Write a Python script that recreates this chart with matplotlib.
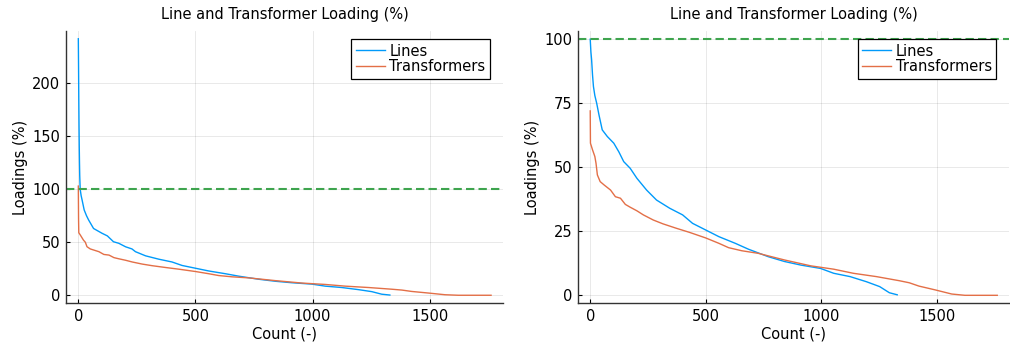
import numpy as np
import matplotlib.pyplot as plt

# values (count of elements, loading %)
# left panel: all elements
lines_count_all = [0, 1, 2, 3, 4, 5, 6, 8, 12, 16, 25, 35, 44, 65, 101, 124, 150, 173, 202, 229,
                   244, 287, 344, 400, 443, 500, 557, 628, 685, 770, 841, 912, 997, 1054, 1125,
                   1196, 1253, 1295, 1330]
lines_load_all = [242, 215, 185, 160, 140, 125, 113, 100, 94, 90, 80.5, 75, 71, 63, 58.5, 56, 50.5,
                  49, 45.7, 43.7, 41.1, 37.2, 34, 31.4, 28.1, 25.5, 22.9, 20.3, 18, 15.1, 13.2,
                  11.8, 10.5, 8.6, 7.3, 5.3, 3.4, 1.0, 0.2]
trafo_count_all = [0, 1, 2, 8, 22, 30, 37, 51, 88, 109, 131, 152, 173, 202, 230, 273, 315, 372,
                   429, 500, 557, 599, 656, 727, 841, 955, 1054, 1139, 1239, 1338, 1381, 1423,
                   1494, 1565, 1622, 1762]
trafo_load_all = [103, 72, 59, 57, 52, 50, 45.8, 43.7, 41.1, 38.5, 37.9, 35.5, 34.4, 33, 31.4,
                  29.4, 27.9, 26.2, 24.6, 22.4, 20.3, 18.6, 17.4, 16.4, 13.8, 11.5, 10.2, 8.6,
                  7.3, 5.7, 4.9, 3.6, 2.1, 0.5, 0, 0]

# right panel: zoomed on loadings up to 100 %
lines_count = [0, 3, 6, 10, 14, 20, 28, 38, 52, 74, 102, 124, 145, 173, 202, 244, 287, 344, 400,
               443, 500, 557, 628, 685, 770, 841, 912, 997, 1054, 1125, 1196, 1253, 1295, 1329]
lines_load = [100, 95, 92, 86, 81.5, 78, 75, 70.4, 64.6, 62, 59.4, 56, 52.2, 49.6, 45.7, 41.1,
              37.2, 34, 31.4, 28.1, 25.5, 22.9, 20.3, 18, 15.1, 13.2, 11.8, 10.5, 8.6, 7.3, 5.3,
              3.4, 1.0, 0.2]
trafo_count = [0, 1, 10, 20, 25, 31, 43, 60, 88, 109, 131, 152, 173, 202, 230, 273, 315, 372, 429,
               500, 557, 599, 656, 727, 841, 955, 1054, 1139, 1239, 1338, 1381, 1423, 1494, 1565,
               1622, 1762]
trafo_load = [72, 59.4, 56.8, 54.2, 51.6, 47, 44.4, 43.1, 41.1, 38.5, 37.9, 35.5, 34.4, 33, 31.4,
              29.4, 27.9, 26.2, 24.6, 22.4, 20.3, 18.6, 17.4, 16.4, 13.8, 11.5, 10.2, 8.6, 7.3,
              5.7, 4.9, 3.6, 2.1, 0.5, 0, 0]

limit = 100
title = "Line and Transformer Loading (%)"

plt.rcParams['font.family'] = ['DejaVu Sans']
fig = plt.figure(figsize=(10.1, 3.5), dpi=100)
ax1 = fig.add_axes([0.0653, 0.1343, 0.4327, 0.7771])
ax2 = fig.add_axes([0.5723, 0.1343, 0.4267, 0.7771])


def style(ax, yticks, ylim):
    ax.plot
    for s in ["top", "right"]:
        ax.spines[s].set_visible(False)
    for s in ["left", "bottom"]:
        ax.spines[s].set_color("#333333")
        ax.spines[s].set_linewidth(1.0)
    ax.set_xlim(-52.8, 1812.8)
    ax.set_ylim(*ylim)
    ax.set_xticks([0, 500, 1000, 1500])
    ax.set_yticks(yticks)
    ax.tick_params(direction="in", length=3, width=0.8, labelsize=10.5, pad=4)
    ax.grid(True, color="black", alpha=0.1, linewidth=0.6)
    ax.set_axisbelow(True)
    ax.set_xlabel("Count (-)", fontsize=10.5, labelpad=2)
    ax.set_ylabel("Loadings (%)", fontsize=10.5, labelpad=3)
    ax.set_title(title, fontsize=10.5, pad=9)
    leg = ax.legend(loc="upper right", bbox_to_anchor=(0.97, 0.97), fontsize=10.5, fancybox=False,
                    framealpha=1, edgecolor="black", borderpad=0.3, labelspacing=0.05,
                    handlelength=2.0, handletextpad=0.3, borderaxespad=0)
    leg.get_frame().set_linewidth(0.9)


ax1.plot(lines_count_all, lines_load_all, color="#009AFA", lw=1.0, label="Lines")
ax1.plot(trafo_count_all, trafo_load_all, color="#E36F47", lw=1.0, label="Transformers")
ax1.axhline(limit, color="#3EA44E", lw=1.5, dashes=(4, 2))
style(ax1, [0, 50, 100, 150, 200], (-7.3, 249.3))

ax2.plot(lines_count, lines_load, color="#009AFA", lw=1.0, label="Lines")
ax2.plot(trafo_count, trafo_load, color="#E36F47", lw=1.0, label="Transformers")
ax2.axhline(limit, color="#3EA44E", lw=1.5, dashes=(4, 2))
style(ax2, [0, 25, 50, 75, 100], (-3, 103.2))

fig.savefig("out.png", dpi=100)
